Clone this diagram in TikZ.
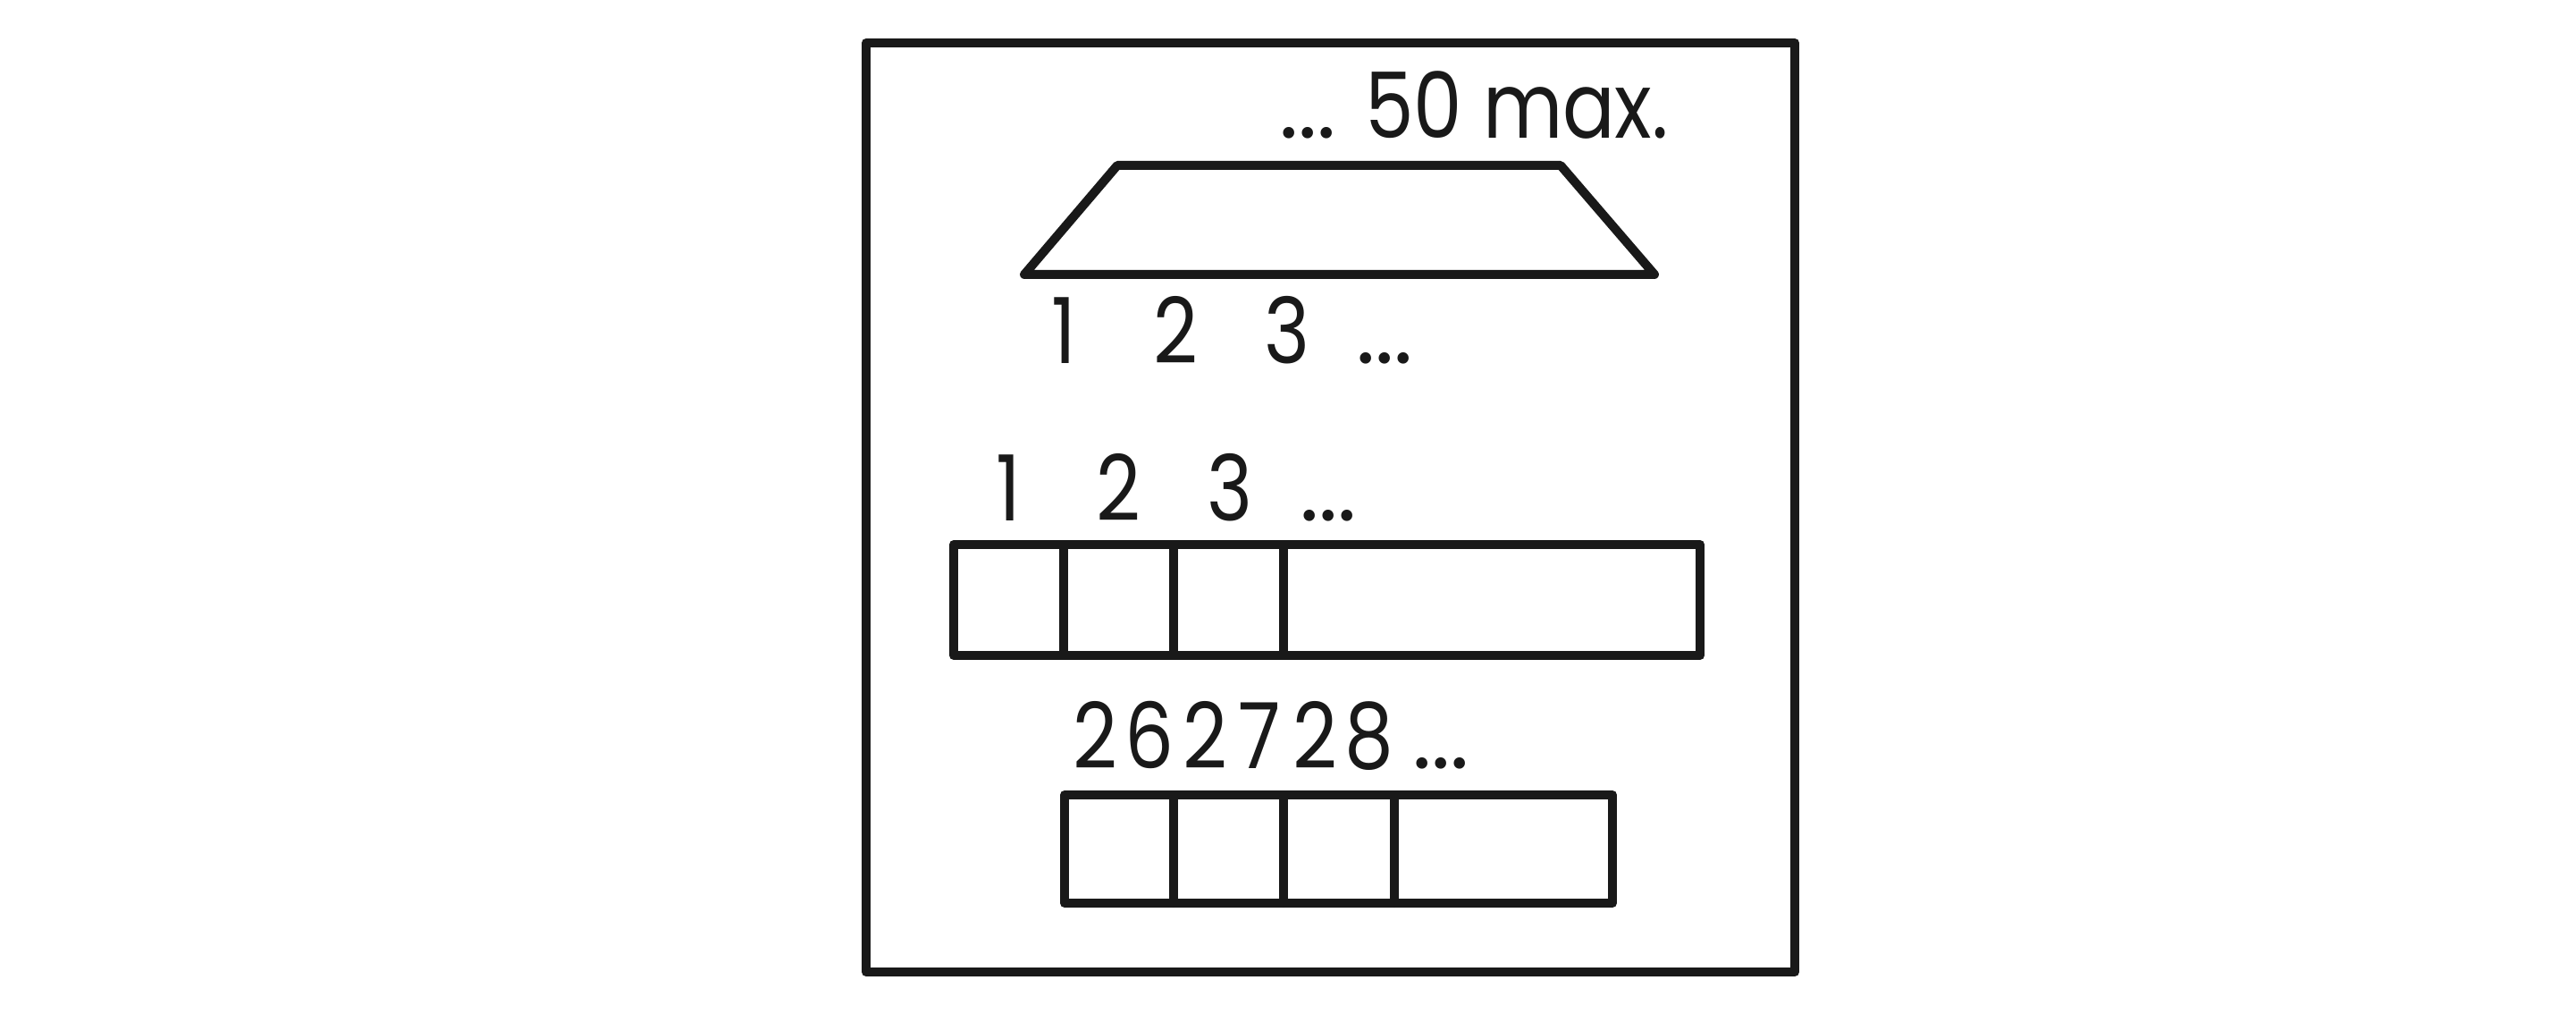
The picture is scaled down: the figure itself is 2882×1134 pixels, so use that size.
\documentclass[tikz,border=0pt]{standalone}
\usepackage{fontspec}
\setmainfont{Poppins}
\newcommand{\narrow}[1]{\scalebox{0.85}[1]{#1}}
\begin{document}
\begin{tikzpicture}[x=0.25pt,y=-0.25pt,
  outline/.style={draw=black!90,line width=2.5pt,line join=round,line cap=round},
  lbl/.style={inner sep=0pt,outer sep=0pt,font=\fontsize{25.5}{30}\selectfont,text=black!90}]
\useasboundingbox (0,0) rectangle (2882,1134);
% outer frame
\draw[outline] (969,48) rectangle (2008,1087);
% trapezoid
\draw[outline] (1146,307) -- (1250,185) -- (1746,185) -- (1851,307) -- cycle;
\node[lbl,anchor=base west] (maxdots) at (1431,155) {...};
\node[lbl,anchor=base west] (maxlbl) at (1527,155) {\narrow{50 max.}};
% row 1 labels
\node[lbl,anchor=base] (t1) at (1190,407) {\narrow{1}};
\node[lbl,anchor=base] (t2) at (1315,407) {\narrow{2}};
\node[lbl,anchor=base] (t3) at (1440,407) {\narrow{3}};
\node[lbl,anchor=base west] (tdots) at (1517,407) {...};
% row 2
\node[lbl,anchor=base] (a1) at (1128,582) {\narrow{1}};
\node[lbl,anchor=base] (a2) at (1251,582) {\narrow{2}};
\node[lbl,anchor=base] (a3) at (1376,582) {\narrow{3}};
\node[lbl,anchor=base west] (adots) at (1454,582) {...};
\draw[outline] (1067,609) rectangle (1902,733);
\draw[outline] (1190,609) -- (1190,733);
\draw[outline] (1313,609) -- (1313,733);
\draw[outline] (1436,609) -- (1436,733);
% row 3
\node[lbl,anchor=base] (b1) at (1225,859) {\narrow{2}};
\node[lbl,anchor=base] (b2) at (1286,859) {\narrow{6}};
\node[lbl,anchor=base] (b3) at (1348,859) {\narrow{2}};
\node[lbl,anchor=base] (b4) at (1409,859) {\narrow{7}};
\node[lbl,anchor=base] (b5) at (1471,859) {\narrow{2}};
\node[lbl,anchor=base] (b6) at (1532,859) {\narrow{8}};
\node[lbl,anchor=base west] (bdots) at (1580,859) {...};
\draw[outline] (1191,889) rectangle (1804,1010);
\draw[outline] (1313,889) -- (1313,1010);
\draw[outline] (1436,889) -- (1436,1010);
\draw[outline] (1560,889) -- (1560,1010);
\end{tikzpicture}
\end{document}
